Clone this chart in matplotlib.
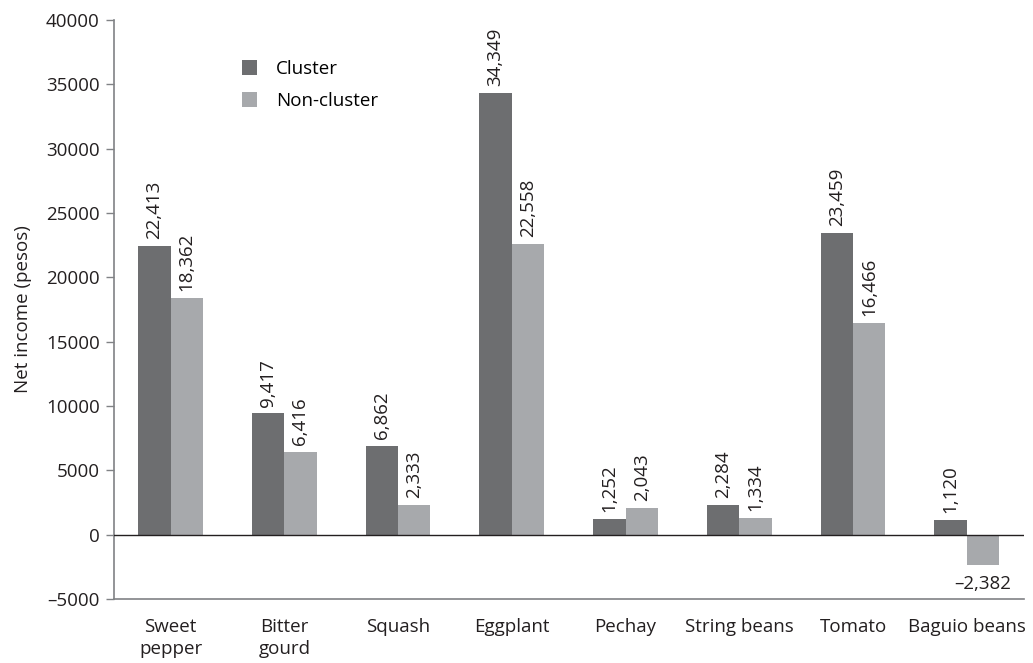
import matplotlib.pyplot as plt
import numpy as np

plt.rcParams['font.family'] = ['Open Sans', 'DejaVu Sans']

crops = ['Sweet\npepper', 'Bitter\ngourd', 'Squash', 'Eggplant', 'Pechay',
         'String beans', 'Tomato', 'Baguio beans']
cluster = [22413, 9417, 6862, 34349, 1252, 2284, 23459, 1120]
non_cluster = [18362, 6416, 2333, 22558, 2043, 1334, 16466, -2382]

dark = '#6d6e70'
light = '#a7a9ac'
axis_grey = '#808285'
fs = 13.5

fig = plt.figure(figsize=(10.33, 6.63), dpi=100)
ax = fig.add_axes([0.110, 0.0965, 0.881, 0.8735])

x = np.arange(len(crops))
w = 0.285
b1 = ax.bar(x - w / 2, cluster, w, color=dark, label='Cluster')
b2 = ax.bar(x + w / 2, non_cluster, w, color=light, label='Non-cluster')

ax.axhline(0, color='#231f20', lw=1.0, zorder=3)

# value labels: vertical above positive bars, horizontal under negative ones
for bars, vals in ((b1, cluster), (b2, non_cluster)):
    for rect, v in zip(bars, vals):
        cx = rect.get_x() + rect.get_width() / 2
        txt = f'{abs(v):,}'
        if v >= 0:
            ax.annotate(txt, (cx, v), xytext=(0, 5), textcoords='offset points',
                        rotation=90, ha='center', va='bottom', fontsize=fs,
                        color='#231f20')
        else:
            ax.annotate('\u2013' + txt, (cx, v), xytext=(0, -7),
                        textcoords='offset points', ha='center', va='top',
                        fontsize=fs, color='#231f20')

ax.set_xlim(-0.5, len(crops) - 0.5)
ax.set_ylim(-5000, 40000)
ticks = list(range(-5000, 40001, 5000))
ax.set_yticks(ticks)
ax.set_yticklabels([str(t).replace('-', '\u2013') for t in ticks])
ax.set_xticks(x)
ax.set_xticklabels(crops, linespacing=1.25)
ax.tick_params(axis='x', length=0, pad=14, labelsize=fs, colors='#231f20')
ax.tick_params(axis='y', length=6, width=1, color=axis_grey, labelsize=fs,
               labelcolor='#231f20', pad=4)

for side in ('top', 'right'):
    ax.spines[side].set_visible(False)
for side in ('left', 'bottom'):
    ax.spines[side].set_color(axis_grey)
    ax.spines[side].set_linewidth(1.2)

ax.set_ylabel('Net income (pesos)', fontsize=fs, color='#231f20', labelpad=10)

ax.legend(loc='upper left', bbox_to_anchor=(0.122, 0.96), frameon=False,
          fontsize=fs, handlelength=0.85, handleheight=0.85, handletextpad=1.0,
          labelspacing=0.75)

fig.savefig('out.png', dpi=100)
